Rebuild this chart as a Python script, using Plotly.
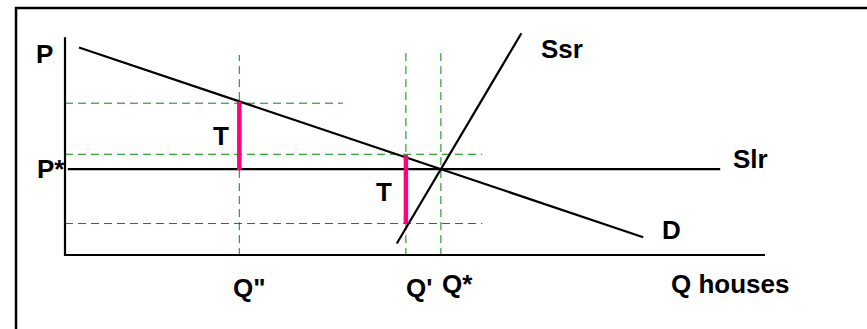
import plotly.graph_objects as go

# ---- data (economic units: Q horizontal, P vertical) ----
Q_DD, Q_D, Q_STAR = 2.49, 4.87, 5.37      # Q", Q', Q*
P_STAR = 3.9

axis_q = [0, 0, 10.0]
axis_p = [9.9, 0, 0]

demand_q = [0.2, 8.26]
demand_p = [9.43, 0.81]

ssr_q = [4.74, 6.52]
ssr_p = [0.52, 10.08]

slr_q = [0.04, 9.36]
slr_p = [P_STAR, P_STAR]

# dashed guide lines
h_guide_p = [6.9, 4.58, 1.43]
h_guide_end = [3.97, 5.96, 5.96]
v_guide_q = [Q_DD, Q_D, Q_STAR]
v_guide_top = [9.09, 9.18, 9.18]
v_guide_bottom = -0.05

# tax wedges (T)
tax_q = [Q_DD, Q_D]
tax_low = [3.86, 1.44]
tax_high = [6.98, 4.55]

# labels
label_text = ["P", "P*", "T", "T", 'Q"', "Q'", "Q*", "Ssr", "Slr", "D", "Q houses"]
label_q = [-0.29, -0.2, 2.23, 4.56, 2.64, 5.06, 5.61, 7.1, 9.79, 8.67, 9.5]
label_p = [9.14, 3.9, 5.41, 2.86, -1.5, -1.5, -1.3, 9.36, 4.36, 1.14, -1.3]

GREEN = "rgb(0,140,0)"
PINK = "rgb(255,0,128)"
FONT = dict(family="Arial, Liberation Sans, sans-serif", size=26, color="black", weight=700)

fig = go.Figure()

for p, qe in zip(h_guide_p, h_guide_end):
    fig.add_trace(go.Scatter(x=[0, qe], y=[p, p], mode="lines",
                             line=dict(color=GREEN, width=1, dash="8px,5px"),
                             hoverinfo="skip", showlegend=False))
for q, top in zip(v_guide_q, v_guide_top):
    fig.add_trace(go.Scatter(x=[q, q], y=[v_guide_bottom, top], mode="lines",
                             line=dict(color=GREEN, width=1, dash="8px,5px"),
                             hoverinfo="skip", showlegend=False))

for xs, ys in [(axis_q, axis_p), (demand_q, demand_p), (ssr_q, ssr_p), (slr_q, slr_p)]:
    fig.add_trace(go.Scatter(x=xs, y=ys, mode="lines",
                             line=dict(color="black", width=2.2),
                             hoverinfo="skip", showlegend=False))

for q, lo, hi in zip(tax_q, tax_low, tax_high):
    fig.add_trace(go.Scatter(x=[q, q], y=[lo, hi], mode="lines",
                             line=dict(color=PINK, width=4.5),
                             hoverinfo="skip", showlegend=False))

for t, q, p in zip(label_text, label_q, label_p):
    fig.add_annotation(x=q, y=p, text=t, showarrow=False, font=FONT,
                       xanchor="center", yanchor="middle")

# frame around the picture
fig.add_shape(type="rect", xref="paper", yref="paper",
              x0=0.0185, x1=1.02, y0=-0.03, y1=0.9757,
              line=dict(color="black", width=2.5), layer="above")

fig.update_layout(
    width=867, height=329,
    margin=dict(l=0, r=0, t=0, b=0),
    paper_bgcolor="white", plot_bgcolor="white",
    xaxis=dict(range=[-65 / 70, 802 / 70], visible=False, fixedrange=True),
    yaxis=dict(range=[-74 / 22, 255 / 22], visible=False, fixedrange=True),
)

fig.write_html("out.html",
               config={"displayModeBar": False, "staticPlot": True},
               post_script="document.body.style.margin='0';document.body.style.overflow='hidden';")
